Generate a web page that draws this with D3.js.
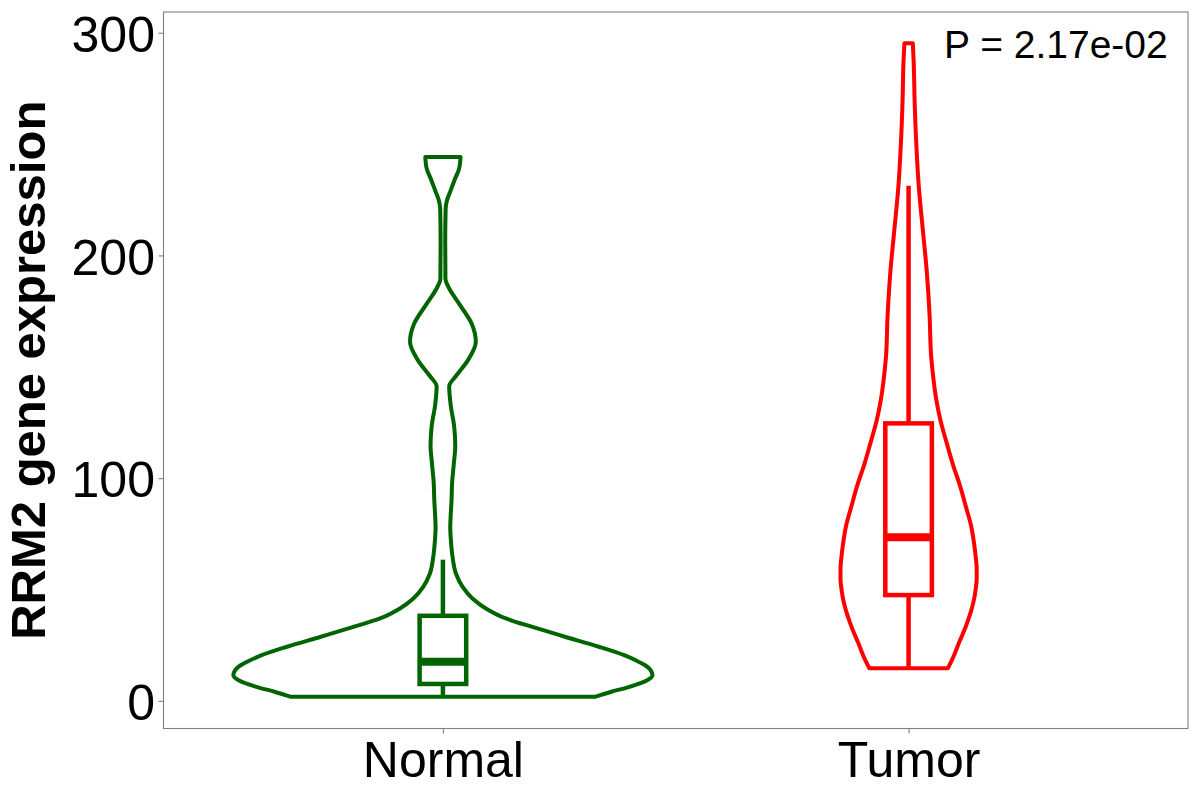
<!DOCTYPE html>
<html>
<head>
<meta charset="utf-8">
<script src="https://cdn.jsdelivr.net/npm/d3@7"></script>
<style>
  html, body { margin: 0; padding: 0; background: #fff; }
  svg { display: block; font-family: "Liberation Sans", Arial, sans-serif; }
</style>
</head>
<body>
<svg id="chart" width="1200" height="800"></svg>
<script>
// ---------- data ----------
const categories = ["Normal", "Tumor"];
const colors = ["#006400", "#FF0000"];
const yTicks = [0, 100, 200, 300];
const pLabel = "P = 2.17e-02";

// violin profiles: value (y) and relative half-width (1 = full violin width)
const normalValues  = [1.8, 4, 6.3, 9.3, 11.5, 14, 16, 18, 20.5, 24.3, 28.7, 33.2, 37, 41.5, 46, 51.2, 57.2, 64.7, 72.2, 78, 83, 89.8, 98.1, 106.4, 114.7, 123, 132.9, 141.2, 146.2, 152.9, 161.2, 169.4, 177.8, 186.1, 189.4, 206, 220.9, 224.2, 229.2, 234.2, 239.2, 244.2];
const normalDensity = [0.725, 0.80, 0.89, 0.975, 1.0, 0.99, 0.965, 0.925, 0.865, 0.744, 0.586, 0.427, 0.300, 0.205, 0.141, 0.094, 0.062, 0.046, 0.038, 0.035, 0.037, 0.041, 0.044, 0.052, 0.059, 0.054, 0.037, 0.030, 0.065, 0.119, 0.157, 0.137, 0.081, 0.025, 0.012, 0.011, 0.013, 0.018, 0.037, 0.057, 0.078, 0.084];
const tumorValues   = [14.6, 18, 21.2, 26, 30.8, 35.5, 40.3, 45, 50, 55, 59.3, 65, 71, 78.3, 87, 97.3, 106, 116.4, 126, 135.4, 145, 154.4, 173.4, 192.5, 211.5, 230.5, 249.6, 268.6, 287.6, 295.3];
const tumorDensity  = [0.187, 0.205, 0.220, 0.240, 0.262, 0.281, 0.298, 0.311, 0.320, 0.325, 0.325, 0.320, 0.312, 0.299, 0.274, 0.243, 0.212, 0.180, 0.152, 0.132, 0.118, 0.108, 0.100, 0.087, 0.068, 0.049, 0.037, 0.029, 0.024, 0.020];

// box plot statistics per category
const boxLower  = [1.8, 14.6];
const boxQ1     = [7.6, 47.5];
const boxMedian = [17.6, 73.5];
const boxQ3     = [38.2, 124.6];
const boxUpper  = [63.4, 231.3];

// ---------- layout ----------
const svg = d3.select("#chart");
const panel = { left: 163.5, right: 1188, top: 12, bottom: 728.5 };

const x = d3.scalePoint().domain(categories).range([panel.left, panel.right]).padding(0.6);
const y = d3.scaleLinear().domain([-12.4, 309.3]).range([panel.bottom, panel.top]);
const step = x.step();
const violinHalf = d3.scaleLinear().domain([0, 1]).range([0, 0.45 * step]);
const boxHalf = 0.05 * step;

// panel border
svg.append("rect")
  .attr("x", panel.left).attr("y", panel.top)
  .attr("width", panel.right - panel.left).attr("height", panel.bottom - panel.top)
  .attr("fill", "none").attr("stroke", "#7f7f7f").attr("stroke-width", 1.1);

// violins
const profiles = [
  normalValues.map((v, i) => ({ v, d: normalDensity[i] })),
  tumorValues.map((v, i) => ({ v, d: tumorDensity[i] }))
];
categories.forEach((c, i) => {
  const cx = x(c);
  const area = d3.area()
    .y(d => y(d.v))
    .x0(d => cx - violinHalf(d.d))
    .x1(d => cx + violinHalf(d.d))
    .curve(d3.curveMonotoneY);
  svg.append("path")
    .datum(profiles[i])
    .attr("d", area)
    .attr("fill", "#fff")
    .attr("stroke", colors[i])
    .attr("stroke-width", 4)
    .attr("stroke-linejoin", "round");
});

// boxes
categories.forEach((c, i) => {
  const cx = x(c);
  const g = svg.append("g");
  g.append("line").attr("x1", cx).attr("x2", cx)
    .attr("y1", y(boxQ3[i])).attr("y2", y(boxUpper[i]))
    .attr("stroke", colors[i]).attr("stroke-width", 4.5);
  g.append("line").attr("x1", cx).attr("x2", cx)
    .attr("y1", y(boxQ1[i])).attr("y2", y(boxLower[i]))
    .attr("stroke", colors[i]).attr("stroke-width", 4.5);
  g.append("rect")
    .attr("x", cx - boxHalf).attr("width", 2 * boxHalf)
    .attr("y", y(boxQ3[i])).attr("height", y(boxQ1[i]) - y(boxQ3[i]))
    .attr("fill", "#fff").attr("stroke", colors[i]).attr("stroke-width", 4.5);
  g.append("line")
    .attr("x1", cx - boxHalf).attr("x2", cx + boxHalf)
    .attr("y1", y(boxMedian[i])).attr("y2", y(boxMedian[i]))
    .attr("stroke", colors[i]).attr("stroke-width", 8);
});

// y axis
const yAxis = svg.append("g")
  .attr("transform", `translate(${panel.left},0)`)
  .call(d3.axisLeft(y).tickValues(yTicks).tickSize(5).tickPadding(3.5).tickFormat(d3.format("d")));
yAxis.select(".domain").remove();
yAxis.selectAll(".tick line").attr("stroke", "#7f7f7f").attr("stroke-width", 1.1);
yAxis.selectAll(".tick text")
  .attr("fill", "#000").attr("dy", "0.375em")
  .style("font-size", "50px").style("font-family", "'Liberation Sans', Arial, sans-serif");

// x axis
const xAxis = svg.append("g")
  .attr("transform", `translate(0,${panel.bottom})`)
  .call(d3.axisBottom(x).tickSize(5));
xAxis.select(".domain").remove();
xAxis.selectAll(".tick line").attr("stroke", "#7f7f7f").attr("stroke-width", 1.1);
xAxis.selectAll(".tick text")
  .attr("fill", "#000").attr("y", 48.5).attr("dy", null)
  .style("font-size", "50px").style("font-family", "'Liberation Sans', Arial, sans-serif");

// y title
svg.append("text")
  .attr("transform", `translate(45,${(panel.top + panel.bottom) / 2}) rotate(-90)`)
  .attr("text-anchor", "middle")
  .style("font-size", "49px").style("font-weight", "bold")
  .text("RRM2 gene expression");

// p-value annotation
svg.append("text")
  .attr("x", 944).attr("y", 57.7)
  .style("font-size", "39px")
  .text(pLabel);
</script>
</body>
</html>
